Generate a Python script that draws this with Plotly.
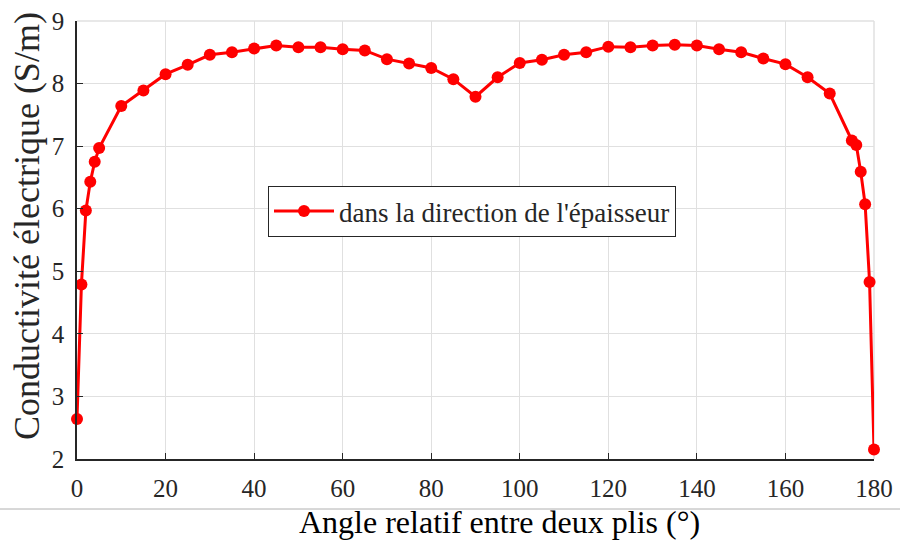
import plotly.graph_objects as go

angles = [0, 1, 2, 3, 4, 5, 10, 15, 20, 25, 30, 35, 40, 45, 50, 55, 60, 65, 70, 75,
          80, 85, 90, 95, 100, 105, 110, 115, 120, 125, 130, 135, 140, 145, 150,
          155, 160, 165, 170, 175, 176, 177, 178, 179, 180]
conductivity = [2.64, 4.79, 5.97, 6.43, 6.75, 6.97, 7.64, 7.89, 8.15, 8.30, 8.46, 8.50,
                8.56, 8.61, 8.58, 8.58, 8.55, 8.53, 8.39, 8.32, 8.25, 8.07, 7.79, 8.10,
                8.33, 8.38, 8.46, 8.50, 8.59, 8.58, 8.61, 8.62, 8.61, 8.55, 8.50,
                8.40, 8.31, 8.10, 7.84, 7.09, 7.02, 6.59, 6.07, 4.83, 2.15]
series_name = "dans la direction de l'épaisseur"
x_ticks = [0, 20, 40, 60, 80, 100, 120, 140, 160, 180]
y_ticks = [2, 3, 4, 5, 6, 7, 8, 9]
x_title = "Angle relatif entre deux plis (°)"
y_title = "Conductivité électrique (S/m)"

W, H = 900, 542
L, R, T, B = 77, 26, 21, 83
pw, ph = W - L - R, H - T - B

FONT = "Liberation Serif, Times New Roman, serif"

fig = go.Figure()
fig.add_trace(go.Scatter(
    x=angles, y=conductivity, mode="lines+markers", name=series_name,
    line=dict(color="#ff0000", width=3),
    marker=dict(color="#ff0000", size=12),
    cliponaxis=False,
))

axis_common = dict(
    showgrid=True, gridcolor="#e0e0e0", gridwidth=1,
    showline=True, linecolor="#262626", linewidth=1.5,
    ticks="inside", ticklen=6, tickcolor="#262626", tickwidth=1,
    tickfont=dict(family=FONT, size=25, color="#262626"),
    zeroline=False, mirror=False,
)
fig.update_xaxes(range=[0, 180], tickvals=x_ticks, ticktext=[str(v) for v in x_ticks],
                 ticklabelstandoff=6, **axis_common)
fig.update_yaxes(range=[2, 9], tickvals=y_ticks, ticktext=[str(v) for v in y_ticks],
                 ticklabelstandoff=6, **axis_common)

# top and right borders (light, like the grid)
fig.add_shape(type="line", xref="paper", yref="paper", x0=0, x1=1, y0=1, y1=1,
              line=dict(color="#e0e0e0", width=1.5), layer="below")
fig.add_shape(type="line", xref="paper", yref="paper", x0=1, x1=1, y0=0, y1=1,
              line=dict(color="#e0e0e0", width=1.5), layer="below")
# separator line across the image
sep_y = (H - B - 509) / ph
fig.add_shape(type="line", xref="paper", yref="paper",
              x0=-L / pw, x1=(W - L) / pw, y0=sep_y, y1=sep_y,
              line=dict(color="#b0b0b0", width=1))

fig.add_annotation(text=x_title, xref="paper", yref="paper",
                   x=(499 - L) / pw, y=(H - B - 542) / ph, xanchor="center", yanchor="bottom",
                   showarrow=False, font=dict(family=FONT, size=32, color="#000000"))
fig.add_annotation(text=y_title, xref="paper", yref="paper",
                   x=(27 - L) / pw, y=(H - B - 226) / ph, xanchor="center", yanchor="middle",
                   textangle=-90, showarrow=False,
                   font=dict(family=FONT, size=36, color="#262626"))

fig.update_layout(
    width=W, height=H,
    margin=dict(l=L, r=R, t=T, b=B, autoexpand=False),
    paper_bgcolor="white", plot_bgcolor="white",
    showlegend=True,
    legend=dict(x=(268 - L) / pw, y=(H - B - 186) / ph, xanchor="left", yanchor="top",
                bgcolor="white", bordercolor="#262626", borderwidth=1,
                font=dict(family=FONT, size=27, color="#262626"),
                itemwidth=60),
)

fig.write_html("out.html", config={"displayModeBar": False},
               post_script="document.body.style.margin='0';document.body.style.overflow='hidden';")
